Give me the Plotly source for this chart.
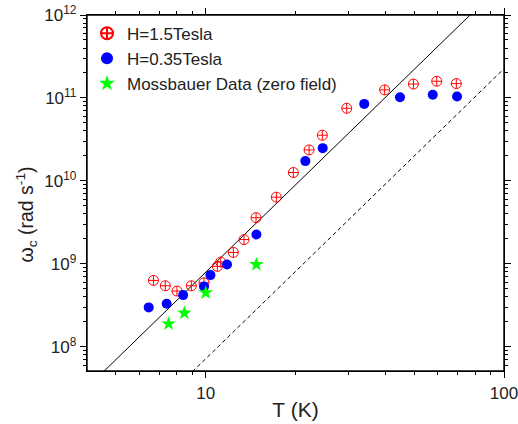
import plotly.graph_objects as go
import math

# ---- data ----
T_h15 = [6.68, 7.32, 8.01, 8.95, 9.87, 10.94, 11.23, 12.38, 13.44, 14.75, 17.25,
         19.67, 22.21, 24.61, 29.7, 39.8, 49.7, 59.5, 69.2]
w_h15 = [6.3e8, 5.43e8, 4.69e8, 5.43e8, 5.9e8, 9.3e8, 1.05e9, 1.37e9, 1.96e9, 3.6e9, 6.36e9,
         1.26e10, 2.36e10, 3.55e10, 7.5e10, 1.25e11, 1.47e11, 1.59e11, 1.49e11]

T_h035 = [6.44, 7.40, 8.40, 9.87, 10.37, 11.79, 14.79, 21.58, 24.67, 34.0, 44.8, 57.7, 69.6]
w_h035 = [2.98e8, 3.3e8, 4.19e8, 5.33e8, 7.3e8, 9.8e8, 2.25e9, 1.73e10, 2.48e10, 8.47e10,
          1.02e11, 1.09e11, 1.04e11]

T_moss = [7.51, 8.48, 10.0, 14.79]
w_moss = [1.89e8, 2.55e8, 4.48e8, 9.8e8]

fit_T = [4.0, 100.0]
fit_solid = [3.2e7, 2.5e12]
fit_dashed = [2.9e6, 2.25e11]

x_tickvals = [10, 100]
x_ticktext = ["10", "100"]
x_minor = [5, 6, 7, 8, 9, 20, 30, 40, 50, 60, 70, 80, 90]
y_tickvals = [1e8, 1e9, 1e10, 1e11, 1e12]
y_ticktext = ["10<sup>8</sup>", "10<sup>9</sup>", "10<sup>10</sup>", "10<sup>11</sup>", "10<sup>12</sup>"]
y_minor = [m * 10 ** e for e in range(7, 12) for m in range(2, 10)]

x_title = "T (K)"
y_title = "ω<sub>c</sub> (rad s<sup>-1</sup>)"

FONT = "Arial, Liberation Sans, sans-serif"

fig = go.Figure()

fig.add_trace(go.Scatter(x=fit_T, y=fit_solid, mode="lines", showlegend=False,
                         line=dict(color="black", width=1)))
fig.add_trace(go.Scatter(x=fit_T, y=fit_dashed, mode="lines", showlegend=False,
                         line=dict(color="black", width=1, dash="4px,3px")))

fig.add_trace(go.Scatter(x=T_h15, y=w_h15, mode="markers", name="H=1.5Tesla",
                         marker=dict(symbol="circle-cross-open", size=10, color="#ff0000",
                                     line=dict(width=1, color="#ff0000"))))
fig.add_trace(go.Scatter(x=T_h035, y=w_h035, mode="markers", name="H=0.35Tesla",
                         marker=dict(symbol="circle", size=10, color="#0000ff",
                                     line=dict(width=0))))
fig.add_trace(go.Scatter(x=T_moss, y=w_moss, mode="markers", name="Mossbauer Data (zero field)",
                         marker=dict(symbol="star", size=11, color="#00ff00",
                                     line=dict(width=0))))

axis_common = dict(showline=True, linecolor="black", linewidth=1.4, mirror="ticks",
                   ticks="outside", ticklen=6, tickwidth=1, tickcolor="black",
                   showgrid=False, zeroline=False, automargin=False,
                   ticklabeloverflow="allow",
                   tickfont=dict(family=FONT, size=17, color="#222"))

fig.update_xaxes(type="log", range=[math.log10(4.0), 2.0],
                 tickvals=x_tickvals, ticktext=x_ticktext,
                 minor=dict(tickvals=x_minor, ticks="outside", ticklen=3, tickcolor="black", showgrid=False),
                 title=dict(text=x_title, font=dict(family=FONT, size=21, color="#222"), standoff=0),
                 **axis_common)
fig.update_yaxes(type="log", range=[7.707, 12.0],
                 tickvals=y_tickvals, ticktext=y_ticktext,
                 minor=dict(tickvals=y_minor, ticks="outside", ticklen=3, tickcolor="black", showgrid=False),
                 **axis_common)

# plot frame (box around the data area)
fig.add_shape(type="rect", xref="paper", yref="paper", x0=0, x1=1, y0=0, y1=1,
              line=dict(color="black", width=1.4), layer="above")

# y-axis title as a rotated annotation for exact placement
fig.add_annotation(text=y_title, xref="paper", yref="paper", x=-0.146, y=0.44,
                   xanchor="center", yanchor="middle", textangle=-90, showarrow=False,
                   font=dict(family=FONT, size=19.5, color="#222"))

fig.update_layout(
    width=518, height=424,
    margin=dict(l=87, r=14, t=15, b=53),
    plot_bgcolor="white", paper_bgcolor="white",
    font=dict(family=FONT, size=17, color="#222"),
    legend=dict(x=0.0, y=0.998, xanchor="left", yanchor="top", bgcolor="rgba(0,0,0,0)",
                font=dict(family=FONT, size=17, color="#222"), tracegroupgap=0, itemsizing="constant"),
)

# remove the default 8px page margin so the figure sits at the window's top-left corner
fig.write_html("out.html", config={"displayModeBar": False},
               post_script="document.body.style.margin='0';")
